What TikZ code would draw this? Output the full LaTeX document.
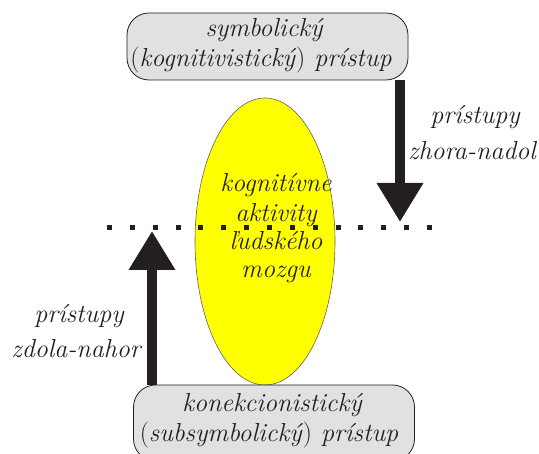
\documentclass[tikz,border=0pt]{standalone}
\usepackage{fontspec}
\usetikzlibrary{shapes.geometric,arrows.meta}
\definecolor{ink}{HTML}{231F20}
\definecolor{boxgray}{HTML}{E1E1E1}
\definecolor{brainyellow}{HTML}{FFFF00}
\begin{document}
\begin{tikzpicture}[x=1pt,y=1pt,
  approach/.style={draw=ink,line width=0.8pt,fill=boxgray,rounded corners=22pt,
    minimum width=281pt,minimum height=67pt,inner sep=0pt},
  brain/.style={ellipse,draw=ink!70,line width=0.6pt,fill=brainyellow,
    minimum width=140pt,minimum height=287pt,inner sep=0pt},
  txt/.style={anchor=base,inner sep=0pt,font=\rmfamily\fontsize{26}{30}\selectfont\itshape,text=ink},
  bigarrow/.style={draw=ink,line width=10pt,-{Triangle[width=44pt,length=39pt]}}
]
\useasboundingbox (0,0) rectangle (539,454);

% central ellipse
\node[brain] (mind) at (265,212.5) {};
\node[txt] (m1) at (276,262) {kognitívne};
\node[txt] (m2) at (276,232) {aktivity};
\node[txt] (m3) at (276,204) {ľudského};
\node[txt] (m4) at (276,176) {mozgu};

% the two approaches
\node[approach] (top) at (267.5,407.5) {};
\node[txt] (t1) at (264,417) {symbolický};
\node[txt] (t2) at (261,387) {\textup{(}kognitivistický\textup{)} prístup};

\node[approach,minimum height=76pt] (bottom) at (274,31) {};
\node[txt] (b1) at (272,42) {konekcionistický};
\node[txt] (b2) at (269,12) {\textup{(}subsymbolický\textup{)} prístup};

% dividing dotted line
\coordinate (dl) at (107,226);
\coordinate (dr) at (432,226);
\draw[ink,line width=5pt,dash pattern=on 5pt off 17.86pt] (dl) -- (dr);

% top-down and bottom-up arrows
\coordinate (downtip) at (400,232);
\coordinate (uptip) at (152,223);
\draw[bigarrow] (downtip |- top.south) -- (downtip);
\draw[bigarrow] (uptip |- bottom.north) -- (uptip);

\node[txt] (d1) at (475,330) {prístupy};
\node[txt] (d2) at (472,294) {zhora-nadol};
\node[txt] (u1) at (79,131) {prístupy};
\node[txt] (u2) at (76,96) {zdola-nahor};
\end{tikzpicture}
\end{document}
